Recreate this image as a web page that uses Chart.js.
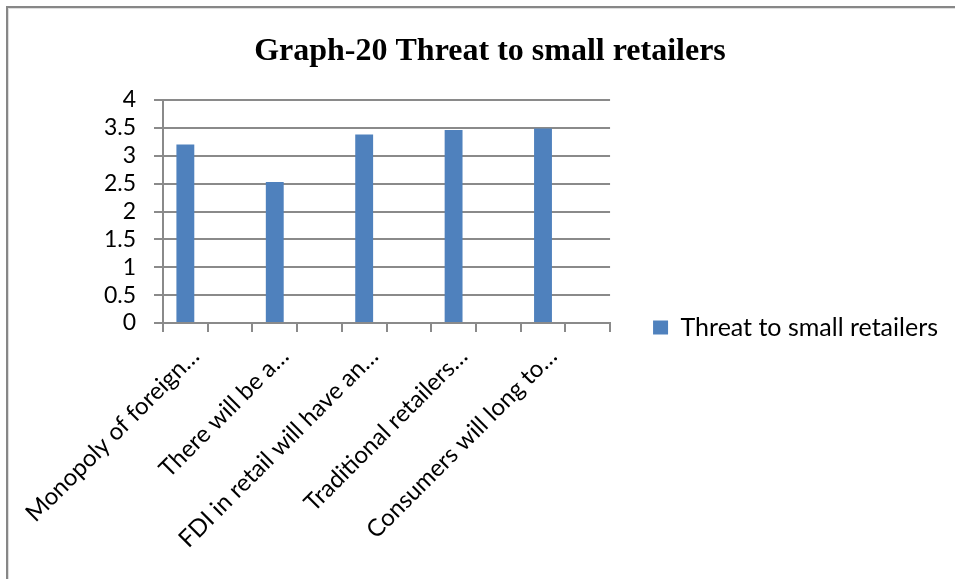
<!DOCTYPE html>
<html>
<head>
<meta charset="utf-8">
<script src="https://cdn.jsdelivr.net/npm/chart.js@4"></script>
<style>
  html, body { margin: 0; padding: 0; width: 955px; height: 579px; overflow: hidden; background: #fff; }
  .frame {
    position: absolute; left: 6px; top: 6px; width: 1100px; height: 800px;
    border-left: 2px solid #878787; border-top: 2px solid #878787;
    box-shadow: inset 1px 1px 0 #dedede;
  }
  .wrap { position: absolute; left: 0; top: 0; width: 955px; height: 655px; }
</style>
</head>
<body>
<div class="frame"></div>
<div class="wrap"><canvas id="chart"></canvas></div>
<script>
// statements on the x axis (cut short the way the sheet shows them)
const LABELS = [
  "Monopoly of foreign\u2026",
  "There will be a\u2026",
  "FDI in retail will have an\u2026",
  "Traditional retailers\u2026",
  "Consumers will long to\u2026"
];
// mean score per statement
const SCORES = [3.2, 2.53, 3.38, 3.46, 3.49];
const SERIES_NAME = "Threat to small retailers";
const TITLE = "Graph-20 Threat to small retailers";
const Y_MIN = 0, Y_MAX = 4, Y_STEP = 0.5;

// every statement sits in a pair of slots, the second one left empty
const slotLabels = LABELS.flatMap(l => [l, ""]);
const slotValues = SCORES.flatMap(v => [v, null]);

const PLOT_LEFT = 163;
const PLOT_BOTTOM = 323;
const PAD_L = 32, PAD_R = 7;
const GRID = "#8a8a8a";
const SANS = "Lato, 'Open Sans', sans-serif";

const el = (id) => document.getElementById(id);

new Chart(el("chart"), {
  type: "bar",
  data: {
    labels: slotLabels,
    datasets: [{
      label: SERIES_NAME,
      data: slotValues,
      backgroundColor: "#4F81BD",
      borderWidth: 0,
      barPercentage: 0.4,
      categoryPercentage: 1
    }]
  },
  options: {
    responsive: true,
    maintainAspectRatio: false,
    animation: false,
    layout: { padding: { left: PAD_L, right: PAD_R, top: 0, bottom: 0 } },
    plugins: {
      title: {
        display: true,
        text: TITLE,
        color: "#000",
        font: { family: "'Liberation Serif', 'Times New Roman', serif", size: 32, weight: "bold" },
        padding: { top: 33, bottom: 28.6 }
      },
      legend: {
        position: "right",
        align: "center",
        maxWidth: 400,
        labels: {
          color: "#000",
          font: { family: SANS, size: 25 },
          boxWidth: 15,
          boxHeight: 14,
          padding: 43
        }
      },
      tooltip: { enabled: false }
    },
    scales: {
      x: {
        offset: true,
        grid: { offset: true, drawOnChartArea: false, drawTicks: true, tickLength: 9, color: GRID, lineWidth: 2 },
        border: { color: GRID, width: 2 },
        ticks: {
          autoSkip: false,
          maxRotation: 45,
          minRotation: 45,
          labelOffset: 10,
          padding: 10,
          color: "#000",
          font: { family: SANS, size: 24 }
        },
        afterFit: (s) => { s.height = s.chart.height - PLOT_BOTTOM; }
      },
      y: {
        min: Y_MIN,
        max: Y_MAX,
        grid: { color: GRID, lineWidth: 2, tickLength: 9 },
        border: { color: GRID, width: 2 },
        ticks: {
          stepSize: Y_STEP,
          autoSkip: false,
          padding: 18,
          color: "#000",
          font: { family: SANS, size: 23 },
          callback: (v) => String(v)
        },
        afterFit: (s) => { s.width = PLOT_LEFT - PAD_L; }
      }
    }
  }
});
</script>
</body>
</html>
